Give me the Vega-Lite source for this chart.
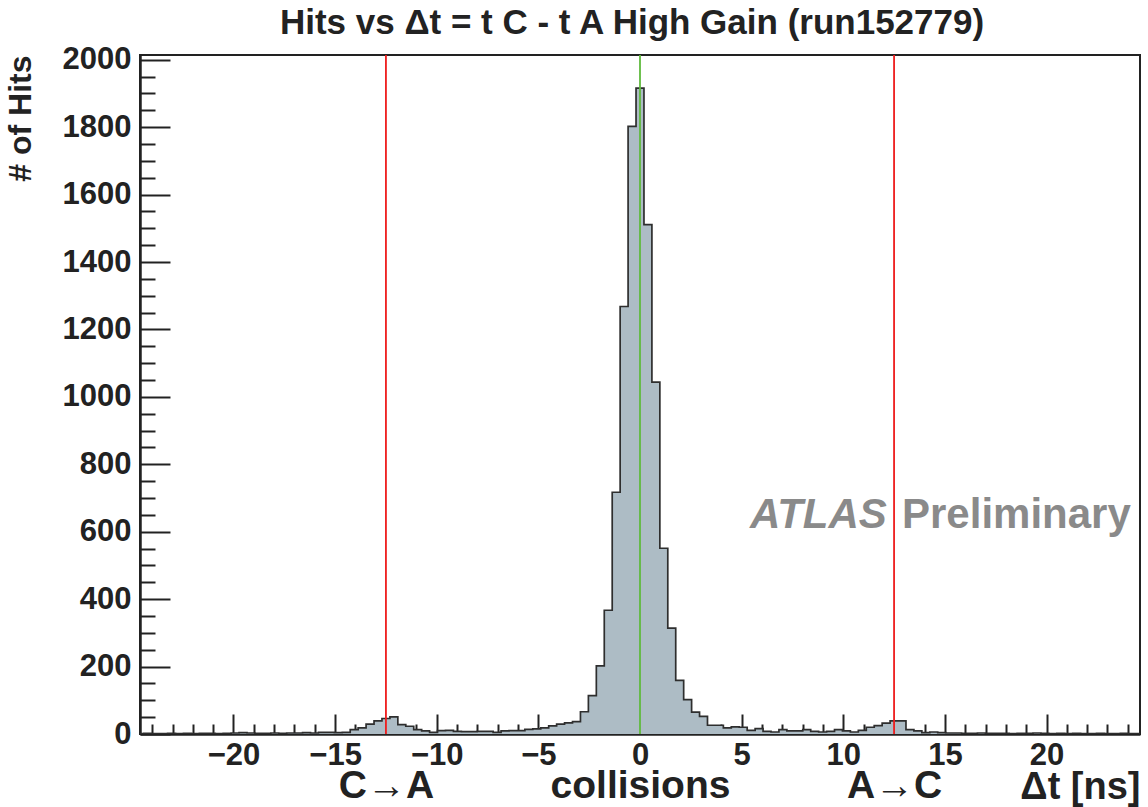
{
  "$schema": "https://vega.github.io/schema/vega-lite/v6.json",
  "width": 1000,
  "height": 679,
  "autosize": "none",
  "padding": {"left": 140, "top": 55, "right": 8, "bottom": 73},
  "background": "white",
  "title": {
    "text": "Hits vs Δt = t C - t A High Gain (run152779)",
    "font": "Liberation Sans",
    "fontWeight": "bold",
    "fontSize": 35,
    "color": "#222222",
    "anchor": "middle",
    "frame": "group",
    "baseline": "alphabetic",
    "offset": 17,
    "dx": -8,
    "dy": 42
  },
  "datasets": {
    "hist": [
      {"t": -24.8047, "n": 1}, {"t": -24.4141, "n": 2}, {"t": -24.0234, "n": 1}, {"t": -23.6328, "n": 1},
      {"t": -23.2422, "n": 2}, {"t": -22.8516, "n": 1}, {"t": -22.4609, "n": 2}, {"t": -22.0703, "n": 1},
      {"t": -21.6797, "n": 2}, {"t": -21.2891, "n": 2}, {"t": -20.8984, "n": 1}, {"t": -20.5078, "n": 2},
      {"t": -20.1172, "n": 3}, {"t": -19.7266, "n": 4}, {"t": -19.3359, "n": 3}, {"t": -18.9453, "n": 2},
      {"t": -18.5547, "n": 2}, {"t": -18.1641, "n": 3}, {"t": -17.7734, "n": 2}, {"t": -17.3828, "n": 3},
      {"t": -16.9922, "n": 3}, {"t": -16.6016, "n": 4}, {"t": -16.2109, "n": 3}, {"t": -15.8203, "n": 5},
      {"t": -15.4297, "n": 5}, {"t": -15.0391, "n": 4}, {"t": -14.6484, "n": 5}, {"t": -14.2578, "n": 13},
      {"t": -13.8672, "n": 18}, {"t": -13.4766, "n": 29}, {"t": -13.0859, "n": 39}, {"t": -12.6953, "n": 46},
      {"t": -12.3047, "n": 51}, {"t": -11.9141, "n": 28}, {"t": -11.5234, "n": 23}, {"t": -11.1328, "n": 13},
      {"t": -10.7422, "n": 9}, {"t": -10.3516, "n": 5}, {"t": -9.9609, "n": 10}, {"t": -9.5703, "n": 11},
      {"t": -9.1797, "n": 8}, {"t": -8.7891, "n": 7}, {"t": -8.3984, "n": 7}, {"t": -8.0078, "n": 8},
      {"t": -7.6172, "n": 8}, {"t": -7.2266, "n": 5}, {"t": -6.8359, "n": 9}, {"t": -6.4453, "n": 10},
      {"t": -6.0547, "n": 10}, {"t": -5.6641, "n": 14}, {"t": -5.2734, "n": 15}, {"t": -4.8828, "n": 18},
      {"t": -4.4922, "n": 24}, {"t": -4.1016, "n": 29}, {"t": -3.7109, "n": 33}, {"t": -3.3203, "n": 37},
      {"t": -2.9297, "n": 66}, {"t": -2.5391, "n": 114}, {"t": -2.1484, "n": 202}, {"t": -1.7578, "n": 367},
      {"t": -1.3672, "n": 717}, {"t": -0.9766, "n": 1268}, {"t": -0.5859, "n": 1802}, {"t": -0.1953, "n": 1916},
      {"t": 0.1953, "n": 1511}, {"t": 0.5859, "n": 1044}, {"t": 0.9766, "n": 551}, {"t": 1.3672, "n": 314},
      {"t": 1.7578, "n": 159}, {"t": 2.1484, "n": 102}, {"t": 2.5391, "n": 65}, {"t": 2.9297, "n": 52},
      {"t": 3.3203, "n": 26}, {"t": 3.7109, "n": 26}, {"t": 4.1016, "n": 18}, {"t": 4.4922, "n": 21},
      {"t": 4.8828, "n": 20}, {"t": 5.2734, "n": 11}, {"t": 5.6641, "n": 16}, {"t": 6.0547, "n": 8},
      {"t": 6.4453, "n": 6}, {"t": 6.8359, "n": 13}, {"t": 7.2266, "n": 9}, {"t": 7.6172, "n": 9},
      {"t": 8.0078, "n": 13}, {"t": 8.3984, "n": 8}, {"t": 8.7891, "n": 6}, {"t": 9.1797, "n": 8},
      {"t": 9.5703, "n": 13}, {"t": 9.9609, "n": 9}, {"t": 10.3516, "n": 6}, {"t": 10.7422, "n": 11},
      {"t": 11.1328, "n": 20}, {"t": 11.5234, "n": 25}, {"t": 11.9141, "n": 32}, {"t": 12.3047, "n": 39},
      {"t": 12.6953, "n": 39}, {"t": 13.0859, "n": 13}, {"t": 13.4766, "n": 9}, {"t": 13.8672, "n": 4},
      {"t": 14.2578, "n": 6}, {"t": 14.6484, "n": 4}, {"t": 15.0391, "n": 3}, {"t": 15.4297, "n": 3},
      {"t": 15.8203, "n": 2}, {"t": 16.2109, "n": 2}, {"t": 16.6016, "n": 3}, {"t": 16.9922, "n": 2},
      {"t": 17.3828, "n": 2}, {"t": 17.7734, "n": 2}, {"t": 18.1641, "n": 1}, {"t": 18.5547, "n": 2},
      {"t": 18.9453, "n": 2}, {"t": 19.3359, "n": 3}, {"t": 19.7266, "n": 2}, {"t": 20.1172, "n": 1},
      {"t": 20.5078, "n": 2}, {"t": 20.8984, "n": 1}, {"t": 21.2891, "n": 2}, {"t": 21.6797, "n": 1},
      {"t": 22.0703, "n": 1}, {"t": 22.4609, "n": 2}, {"t": 22.8516, "n": 1}, {"t": 23.2422, "n": 1},
      {"t": 23.6328, "n": 2}, {"t": 24.0234, "n": 1}, {"t": 24.4141, "n": 1}, {"t": 24.8047, "n": 1}
    ],
    "markers": [
      {"t": -12.5, "kind": "edge"},
      {"t": 12.5, "kind": "edge"},
      {"t": 0, "kind": "center"}
    ]
  },
  "layer": [
    {
      "data": {"name": "hist"},
      "mark": {"type": "area", "interpolate": "step-after", "fill": "#adbcc5", "clip": true},
      "encoding": {
        "x": {
          "field": "t", "type": "quantitative",
          "scale": {"domain": [-24.6, 24.6], "nice": false, "zero": false},
          "axis": {
            "orient": "bottom",
            "values": [-20, -15, -10, -5, 0, 5, 10, 15, 20],
            "format": "d",
            "tickSize": -20,
            "labelPadding": 26,
            "labelFontSize": 31,
            "labelFlush": false,
            "labelOverlap": false,
            "labelBaseline": "top",
            "title": "Δt [ns]",
            "titleFontSize": 38,
            "titleAnchor": "end",
            "titleAlign": "right",
            "titleBaseline": "alphabetic",
            "titleX": 1000,
            "titleY": 64
          }
        },
        "y": {
          "field": "n", "type": "quantitative",
          "scale": {"domain": [0, 2014], "nice": false},
          "axis": {
            "orient": "left",
            "values": [0, 200, 400, 600, 800, 1000, 1200, 1400, 1600, 1800, 2000],
            "format": "d",
            "tickSize": -30,
            "labelPadding": 39,
            "labelFontSize": 31,
            "labelFlush": false,
            "labelOverlap": false,
            "title": "# of Hits",
            "titleFontSize": 32,
            "titleAngle": 270,
            "titleAnchor": "end",
            "titleAlign": "right",
            "titleBaseline": "alphabetic",
            "titleX": -110,
            "titleY": 0
          }
        }
      }
    },
    {
      "data": {"name": "hist"},
      "mark": {"type": "line", "interpolate": "step-after", "stroke": "#2e2e2e", "strokeWidth": 1.7, "clip": true},
      "encoding": {
        "x": {
          "field": "t", "type": "quantitative",
          "axis": {
            "orient": "bottom",
            "values": [-24, -23, -22, -21, -19, -18, -17, -16, -14, -13, -12, -11, -9, -8, -7, -6, -4, -3, -2, -1, 1, 2, 3, 4, 6, 7, 8, 9, 11, 12, 13, 14, 16, 17, 18, 19, 21, 22, 23, 24],
            "tickSize": -10,
            "labels": false,
            "domain": false,
            "title": null
          }
        },
        "y": {
          "field": "n", "type": "quantitative",
          "axis": {
            "orient": "left",
            "values": [50, 100, 150, 250, 300, 350, 450, 500, 550, 650, 700, 750, 850, 900, 950, 1050, 1100, 1150, 1250, 1300, 1350, 1450, 1500, 1550, 1650, 1700, 1750, 1850, 1900, 1950],
            "tickSize": -15,
            "labels": false,
            "domain": false,
            "title": null
          }
        }
      }
    },
    {
      "data": {"name": "markers"},
      "mark": {"type": "rule", "strokeWidth": 1.8},
      "encoding": {
        "x": {
          "field": "t", "type": "quantitative",
          "axis": {
            "orient": "bottom",
            "values": [-12.5, 0, 12.5],
            "ticks": false,
            "domain": false,
            "labelExpr": "datum.value < 0 ? 'C→A' : (datum.value > 0 ? 'A→C' : 'collisions')",
            "labelFontSize": 39,
            "labelBaseline": "alphabetic",
            "labelPadding": 63,
            "labelLimit": 0,
            "labelFlush": false,
            "labelOverlap": false,
            "title": null
          }
        },
        "color": {
          "field": "kind", "type": "nominal",
          "scale": {"domain": ["edge", "center"], "range": ["#ee1c1c", "#5fba3d"]},
          "legend": null
        }
      }
    },
    {
      "data": {"values": [{}]},
      "mark": {"type": "text", "font": "Liberation Sans", "fontWeight": "bold", "fontStyle": "italic", "fontSize": 42, "color": "#8a8a8a", "align": "left", "baseline": "alphabetic"},
      "encoding": {
        "x": {"datum": 5.41, "type": "quantitative", "axis": null},
        "y": {"datum": 612, "type": "quantitative", "axis": null},
        "text": {"value": "ATLAS"}
      }
    },
    {
      "data": {"values": [{}]},
      "mark": {"type": "text", "font": "Liberation Sans", "fontWeight": "bold", "fontSize": 42, "color": "#8a8a8a", "align": "left", "baseline": "alphabetic"},
      "encoding": {
        "x": {"datum": 12.89, "type": "quantitative", "axis": null},
        "y": {"datum": 612, "type": "quantitative", "axis": null},
        "text": {"value": "Preliminary"}
      }
    }
  ],
  "resolve": {"axis": {"x": "independent", "y": "independent"}},
  "config": {
    "view": {"stroke": "#222222", "strokeWidth": 2},
    "axis": {
      "grid": false,
      "tickColor": "#222222",
      "tickWidth": 2,
      "domainColor": "#222222",
      "domainWidth": 2.5,
      "labelColor": "#222222",
      "titleColor": "#222222",
      "labelFont": "Liberation Sans",
      "titleFont": "Liberation Sans",
      "labelFontWeight": "bold",
      "titleFontWeight": "bold"
    }
  }
}
